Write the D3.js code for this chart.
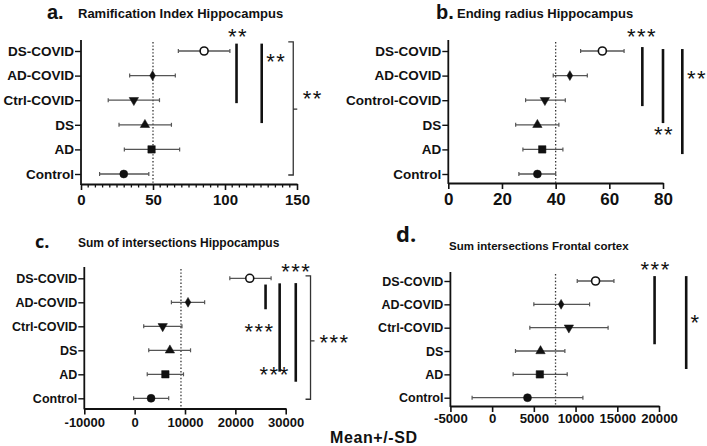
<!DOCTYPE html>
<html>
<head>
<meta charset="utf-8">
<script src="https://cdn.jsdelivr.net/npm/d3@7"></script>
<style>
  body { margin: 0; background: #fff; }
  text { font-family: "Liberation Sans", Arial, sans-serif; font-weight: bold; fill: #111; }
</style>
</head>
<body>
<div id="app"></div>
<script>
// groups, bottom to top
const groupsACD = ['Control', 'AD', 'DS', 'Ctrl-COVID', 'AD-COVID', 'DS-COVID'];
const groupsB = ['Control', 'AD', 'DS', 'Control-COVID', 'AD-COVID', 'DS-COVID'];
const symbolNames = ['circle', 'square', 'up', 'down', 'diamond', 'open'];

// a. ramification index
const ramMean = [29.7, 49, 44.4, 36.7, 49.7, 85.5];
const ramLow = [12.9, 30.1, 26.4, 18.9, 33.8, 67.6];
const ramHigh = [47.1, 68.5, 62.8, 54.5, 65.5, 103.4];
// b. ending radius
const radMean = [33.2, 35, 33.2, 36, 45.3, 57.4];
const radLow = [26.3, 27.8, 25.1, 28.8, 39.1, 49.3];
const radHigh = [40, 42.7, 41.2, 43.6, 51.8, 65.5];
// c. sum of intersections hippocampus
const hipMean = [3260, 6100, 7000, 5570, 10600, 22860];
const hipLow = [-200, 2500, 2800, 1800, 7300, 18900];
const hipHigh = [6760, 9700, 11100, 9400, 13900, 27100];
// d. sum intersections frontal cortex
const frMean = [4240, 5720, 5800, 9200, 8270, 12400];
const frLow = [-2400, 2520, 2800, 4520, 5000, 10200];
const frHigh = [10880, 9000, 8720, 13900, 11680, 14600];

// dotted reference values
const refValues = [50, 40, 9200, 7600];

// x ticks
const ticksA = [0, 50, 100, 150];
const ticksB = [0, 20, 40, 60, 80];
const ticksC = [-10000, 0, 10000, 20000, 30000];
const ticksD = [-5000, 0, 5000, 10000, 15000, 20000];

// significance bars: x value, from/to group index, label
const sigA = [
  { x: 108, y0: 5.3, y1: 2.88, label: '**', lx: 109, ly: 5.65 },
  { x: 125.5, y0: 5.3, y1: 2.07, label: '**', lx: 135.6, ly: 4.63 }
];
const bracketA = { x: 147.4, y0: 5.37, y1: -0.04, mid: 2.64, label: '**', lx: 161, ly: 3.13 };
const sigB = [
  { x: 72.3, y0: 5.16, y1: 2.76, label: '***', lx: 72.2, ly: 5.65 },
  { x: 80, y0: 5.08, y1: 2.07, label: '**', lx: 80.4, ly: 1.67 },
  { x: 87.2, y0: 5.08, y1: 0.81, label: '**', lx: 92.7, ly: 3.94 }
];
const sigC = [
  { x: 26000, y0: 4.74, y1: 3.71, label: '***', lx: 32100, ly: 5.35 },
  { x: 28800, y0: 4.79, y1: 1.11, label: '***', lx: 24800, ly: 2.85 },
  { x: 32000, y0: 4.8, y1: 0.69, label: '***', lx: 27800, ly: 1.05 }
];
const bracketC = { x: 34930, y0: 5.1, y1: -0.04, mid: 2.39, label: '***', lx: 39700, ly: 2.39 };
const sigD = [
  { x: 19470, y0: 5.21, y1: 2.29, label: '***', lx: 19600, ly: 5.56 },
  { x: 23260, y0: 5.21, y1: 1.23, label: '*', lx: 24390, ly: 3.28 }
];

const W = 707, H = 446;
const svg = d3.select('#app').append('svg')
  .attr('width', W).attr('height', H)
  .attr('viewBox', [0, 0, W, H]);

const panels = [
  { letter: 'a.', title: 'Ramification Index Hippocampus', groups: groupsACD,
    mean: ramMean, low: ramLow, high: ramHigh, ref: refValues[0], ticks: ticksA, minor: d3.range(0, 151, 5),
    domain: [0, 150], xr: [81, 297], yr: [174, 51], axisY: 184, yTop: 40,
    sig: sigA, bracket: bracketA, tickFont: 15, tickDy: 21, catFont: 13.5,
    letterPos: [47, 19, 20, 'Liberation Sans'], titlePos: [78, 17.5, 13] },
  { letter: 'b.', title: 'Ending radius Hippocampus', groups: groupsB,
    mean: radMean, low: radLow, high: radHigh, ref: refValues[1], ticks: ticksB, minor: [],
    domain: [0, 80], xr: [448.3, 663], yr: [174, 51], axisY: 183, yTop: 40,
    sig: sigB, bracket: null, tickFont: 17, tickDy: 22, catFont: 13.5,
    letterPos: [436, 19, 20, 'Liberation Sans'], titlePos: [457, 17.5, 13] },
  { letter: 'c.', title: 'Sum of intersections Hippocampus', groups: groupsACD,
    mean: hipMean, low: hipLow, high: hipHigh, ref: refValues[2], ticks: ticksC, minor: [],
    domain: [-10000, 30000], xr: [84.3, 285.7], yr: [398.3, 278.3], axisY: 408.5, yTop: 267,
    sig: sigC, bracket: bracketC, tickFont: 13, tickDy: 18, catFont: 12.5,
    letterPos: [35, 248, 18, 'Open Sans'], titlePos: [78, 246.5, 12] },
  { letter: 'd.', title: 'Sum intersections Frontal cortex', groups: groupsACD,
    mean: frMean, low: frLow, high: frHigh, ref: refValues[3], ticks: ticksD, minor: [],
    domain: [-5000, 20000], xr: [450.4, 659], yr: [397.7, 281], axisY: 406, yTop: 272,
    sig: sigD, bracket: null, tickFont: 13.2, tickDy: 17, catFont: 12.5,
    letterPos: [396, 242, 22, 'Open Sans'], titlePos: [449, 250, 11.5] }
];

function symbolFor(name) {
  const types = { circle: d3.symbolCircle, open: d3.symbolCircle, square: d3.symbolSquare,
    up: d3.symbolTriangle, down: d3.symbolTriangle, diamond: d3.symbolDiamond };
  const sizes = { circle: 50, open: 50, square: 55, up: 38, down: 38, diamond: 28 };
  return d3.symbol(types[name], sizes[name])();
}

function starText(g, x, y, label) {
  g.append('text')
    .attr('x', x).attr('y', y + 9)
    .attr('text-anchor', 'middle')
    .style('font-weight', 'normal')
    .style('font-size', '22px')
    .style('letter-spacing', '1.5px')
    .text(label);
}

// plain hyphen for negatives, like the original
const fmt = d => String(d);

panels.forEach(p => {
  const g = svg.append('g');
  const x = d3.scaleLinear().domain(p.domain).range(p.xr);
  const y = d3.scalePoint().domain(p.groups).range(p.yr);
  const yi = d3.scaleLinear().domain([0, 5]).range(p.yr); // fractional group index
  const x0 = p.xr[0];

  // titles
  g.append('text').attr('x', p.letterPos[0]).attr('y', p.letterPos[1])
    .style('font-size', p.letterPos[2] + 'px').style('font-family', p.letterPos[3])
    .text(p.letter);
  g.append('text').attr('x', p.titlePos[0]).attr('y', p.titlePos[1])
    .style('font-size', p.titlePos[2] + 'px')
    .text(p.title);

  // dotted reference
  g.append('line')
    .attr('x1', x(p.ref)).attr('x2', x(p.ref))
    .attr('y1', p.yTop + 2).attr('y2', p.axisY)
    .attr('stroke', '#333').attr('stroke-width', 1.3)
    .attr('stroke-dasharray', '1.4,2');

  // x axis
  const xAxis = g.append('g')
    .attr('transform', `translate(0,${p.axisY})`)
    .call(d3.axisBottom(x).tickValues(p.ticks).tickSize(6).tickSizeOuter(0).tickFormat(fmt));
  xAxis.select('.domain').attr('stroke', '#111').attr('stroke-width', 1.8);
  xAxis.selectAll('.tick line').attr('stroke', '#111').attr('stroke-width', 1.6);
  xAxis.selectAll('.tick text')
    .attr('y', p.tickDy).attr('dy', 0)
    .style('font-size', p.tickFont + 'px')
    .style('font-family', '"Liberation Sans", Arial, sans-serif')
    .style('font-weight', 'bold')
    .attr('fill', '#111');
  if (p.minor.length) {
    g.append('g').selectAll('line')
      .data(p.minor.filter(v => !p.ticks.includes(v)))
      .join('line')
      .attr('x1', d => x(d)).attr('x2', d => x(d))
      .attr('y1', p.axisY).attr('y2', p.axisY + 3.5)
      .attr('stroke', '#111').attr('stroke-width', 1.3);
  }

  // y axis
  const yAxis = g.append('g')
    .attr('transform', `translate(${x0},0)`)
    .call(d3.axisLeft(y).tickSize(6).tickPadding(1).tickSizeOuter(0));
  yAxis.select('.domain').remove();
  yAxis.selectAll('.tick line').attr('stroke', '#111').attr('stroke-width', 1.4);
  yAxis.selectAll('.tick text')
    .style('font-size', p.catFont + 'px')
    .style('font-family', '"Liberation Sans", Arial, sans-serif')
    .style('font-weight', 'bold')
    .attr('fill', '#111');
  g.append('line')
    .attr('x1', x0).attr('x2', x0)
    .attr('y1', p.yTop).attr('y2', p.axisY + 0.9)
    .attr('stroke', '#111').attr('stroke-width', 1.8);

  // error bars and means
  const rows = p.groups.map((grp, i) => ({ grp, i, mean: p.mean[i], low: p.low[i], high: p.high[i], sym: symbolNames[i] }));
  const eb = g.append('g').selectAll('g').data(rows).join('g');
  eb.append('line')
    .attr('x1', d => x(d.low)).attr('x2', d => x(d.high))
    .attr('y1', d => y(d.grp)).attr('y2', d => y(d.grp))
    .attr('stroke', '#555').attr('stroke-width', 1.3);
  eb.selectAll('line.cap').data(d => [[d.low, d.grp], [d.high, d.grp]]).join('line')
    .attr('class', 'cap')
    .attr('x1', d => x(d[0])).attr('x2', d => x(d[0]))
    .attr('y1', d => y(d[1]) - 2).attr('y2', d => y(d[1]) + 2)
    .attr('stroke', '#555').attr('stroke-width', 1.2);
  eb.append('path')
    .attr('d', d => symbolFor(d.sym))
    .attr('transform', d => `translate(${x(d.mean)},${y(d.grp)})${d.sym === 'down' ? ' rotate(180)' : ''}`)
    .attr('fill', d => d.sym === 'open' ? '#fff' : '#111')
    .attr('stroke', '#111')
    .attr('stroke-width', d => d.sym === 'open' ? 1.6 : 0.5);

  // significance bars
  p.sig.forEach(s => {
    g.append('line')
      .attr('x1', x(s.x)).attr('x2', x(s.x))
      .attr('y1', yi(s.y0)).attr('y2', yi(s.y1))
      .attr('stroke', '#111').attr('stroke-width', 2.6);
    starText(g, x(s.lx), yi(s.ly), s.label);
  });
  if (p.bracket) {
    const b = p.bracket;
    const bx = x(b.x);
    g.append('path')
      .attr('d', `M${bx - 5},${yi(b.y0)} H${bx} V${yi(b.y1)} H${bx - 5} M${bx},${yi(b.mid)} H${bx + 4}`)
      .attr('fill', 'none').attr('stroke', '#333').attr('stroke-width', 1.3);
    starText(g, x(b.lx), yi(b.ly), b.label);
  }
});

svg.append('text')
  .attr('x', 330).attr('y', 443)
  .style('font-size', '16px')
  .style('letter-spacing', '0.6px')
  .text('Mean+/-SD');
</script>
</body>
</html>
